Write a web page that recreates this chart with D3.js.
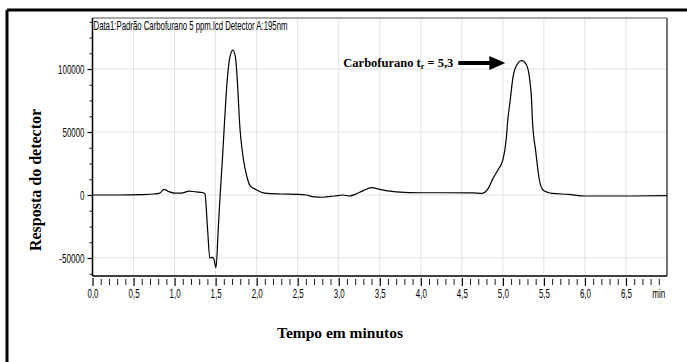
<!DOCTYPE html>
<html>
<head>
<meta charset="utf-8">
<script src="https://cdn.jsdelivr.net/npm/d3@7"></script>
<style>
  html, body { margin: 0; padding: 0; background: #fff; }
  svg { display: block; }
  .narrow { font-family: "Liberation Sans Narrow", "Arial Narrow", "Liberation Sans", Arial, sans-serif; font-stretch: condensed; }
  .serifb { font-family: "Liberation Serif", "Times New Roman", serif; font-weight: bold; }
</style>
</head>
<body>
<script>
// ---- data ----
const times = [0.00, 0.30, 0.60, 0.75, 0.82, 0.87, 0.92, 1.00, 1.08, 1.18, 1.26, 1.34, 1.37, 1.40, 1.43, 1.46, 1.48, 1.505, 1.53, 1.555, 1.58, 1.61, 1.64, 1.67, 1.71, 1.74, 1.77, 1.79, 1.84, 1.88, 1.915, 2.00, 2.10, 2.30, 2.50, 2.60, 2.70, 2.80, 2.95, 3.05, 3.13, 3.20, 3.30, 3.40, 3.50, 3.60, 3.70, 4.00, 4.30, 4.63, 4.75, 4.82, 4.88, 4.95, 5.00, 5.04, 5.06, 5.09, 5.12, 5.16, 5.23, 5.29, 5.33, 5.35, 5.36, 5.40, 5.445, 5.49, 5.55, 5.60, 5.80, 6.00, 6.50, 7.00];
const signal = [0, 0, 300, 800, 1500, 4500, 3000, 1500, 1500, 3100, 2500, 2000, 1000, -25000, -50000, -49500, -51000, -57700, -30000, 0, 25000, 59500, 90000, 108000, 115000, 110000, 85000, 59500, 27800, 15000, 7900, 4000, 1500, 800, 500, 0, -1500, -1800, -800, 0, -800, 500, 3500, 5800, 4500, 3200, 2500, 1800, 1800, 1700, 1300, 5000, 13200, 21000, 27800, 43600, 59500, 75400, 92000, 102000, 106600, 103000, 90000, 75400, 59500, 35000, 11900, 4000, 2000, 1300, 500, -800, -800, -500];

const xTickValues = [0, 0.5, 1.0, 1.5, 2.0, 2.5, 3.0, 3.5, 4.0, 4.5, 5.0, 5.5, 6.0, 6.5];
const xTickLabels = ["0,0", "0,5", "1,0", "1,5", "2,0", "2,5", "3,0", "3,5", "4,0", "4,5", "5,0", "5,5", "6,0", "6,5"];
const yTickValues = [-50000, 0, 50000, 100000];
const yTickLabels = ["-50000", "0", "50000", "100000"];

const titleText = "Data1:Padrão Carbofurano 5 ppm.lcd Detector A:195nm";
const yTitle = "Resposta do detector";
const xTitle = "Tempo em minutos";
const xUnit = "min";
const annotName = "Carbofurano t";
const annotSub = "r";
const annotValue = " = 5,3";
const annotTip = [5.03, 104800];

// ---- layout ----
const W = 687, H = 362;
const L = 92.5, R = 667, T = 18, B = 276;

const svg = d3.select("body").append("svg").attr("width", W).attr("height", H);

const x = d3.scaleLinear().domain([0, 7.0]).range([L, R]);
const y = d3.scaleLinear().domain([-64300, 140500]).range([B, T]);

// width of condensed label text
function condensedWidth(s) {
  let w = 0;
  for (const c of s) {
    if (c === ",") w += 2.2;
    else if (c === "-") w += 3.2;
    else if (c === "m") w += 6.5;
    else if (c === "i") w += 2;
    else w += 4.4;
  }
  return w;
}
function condense(sel) {
  sel.attr("textLength", function () { return condensedWidth(this.textContent); })
     .attr("lengthAdjust", "spacingAndGlyphs");
}

// outer frame (top + left thick lines)
svg.append("line").attr("x1", 7).attr("x2", W).attr("y1", 10).attr("y2", 10).attr("stroke", "#000").attr("stroke-width", 3);
svg.append("line").attr("x1", 7).attr("x2", 7).attr("y1", 10).attr("y2", H).attr("stroke", "#000").attr("stroke-width", 3);

// gridlines
svg.append("g").selectAll("line").data(xTickValues.filter(d => d > 0)).join("line")
  .attr("x1", d => x(d)).attr("x2", d => x(d)).attr("y1", T).attr("y2", B)
  .attr("stroke", "#e2e2e2").attr("stroke-width", 1);
svg.append("g").selectAll("line").data(yTickValues).join("line")
  .attr("x1", L).attr("x2", R).attr("y1", d => y(d)).attr("y2", d => y(d))
  .attr("stroke", "#e2e2e2").attr("stroke-width", 1);

// plot frame
svg.append("line").attr("x1", L).attr("x2", R).attr("y1", T).attr("y2", T).attr("stroke", "#555").attr("stroke-width", 1.2);
svg.append("line").attr("x1", R).attr("x2", R).attr("y1", T).attr("y2", B).attr("stroke", "#444").attr("stroke-width", 1.5);

// x axis
const xMinor = d3.range(0, 70).map(i => i / 10).filter(v => Math.abs(v * 2 - Math.round(v * 2)) > 1e-6);
const gxm = svg.append("g").attr("transform", `translate(0,${B + 3})`)
  .call(d3.axisBottom(x).tickValues(xMinor).tickSize(6).tickFormat(""));
gxm.select(".domain").remove();
gxm.selectAll("line").attr("stroke", "#000").attr("stroke-width", 0.9);

const gx = svg.append("g").attr("transform", `translate(0,${B + 2})`)
  .call(d3.axisBottom(x).tickValues(xTickValues).tickSize(8).tickFormat((d, i) => xTickLabels[i]));
gx.select(".domain").remove();
gx.selectAll("line").attr("stroke", "#000").attr("stroke-width", 1.2);
gx.selectAll("text").attr("class", "narrow").attr("font-size", 13.5).attr("fill", "#000").attr("dy", "0.75em").attr("y", 10).call(condense);
svg.append("line").attr("x1", L).attr("x2", R).attr("y1", B).attr("y2", B).attr("stroke", "#000").attr("stroke-width", 1.5);
svg.append("text").attr("class", "narrow").attr("font-size", 13.5).attr("x", x(6.9)).attr("y", B + 12)
  .attr("dy", "0.75em").attr("text-anchor", "middle").text(xUnit).call(condense);

// y axis
const yMinor = d3.range(-62500, 140001, 12500).filter(v => v % 50000 !== 0 && v > -64300);
const gym = svg.append("g").attr("transform", `translate(${L},0)`)
  .call(d3.axisLeft(y).tickValues(yMinor).tickSize(3).tickFormat(""));
gym.select(".domain").remove();
gym.selectAll("line").attr("stroke", "#000").attr("stroke-width", 0.9);
const gy = svg.append("g").attr("transform", `translate(${L},0)`)
  .call(d3.axisLeft(y).tickValues(yTickValues).tickSize(5).tickPadding(3).tickFormat((d, i) => yTickLabels[i]));
gy.select(".domain").remove();
gy.selectAll("line").attr("stroke", "#000").attr("stroke-width", 1.2);
gy.selectAll("text").attr("class", "narrow").attr("font-size", 13).attr("fill", "#000").call(condense);
svg.append("line").attr("x1", L).attr("x2", L).attr("y1", T).attr("y2", B).attr("stroke", "#000").attr("stroke-width", 1.5);

// title inside plot
svg.append("text").attr("class", "narrow").attr("font-size", 13).attr("x", L + 1).attr("y", T + 11.5)
  .attr("textLength", 194).attr("lengthAdjust", "spacingAndGlyphs").text(titleText);

// curve
const pts = times.map((t, i) => [t, signal[i]]);
svg.append("path").datum(pts)
  .attr("fill", "none").attr("stroke", "#000").attr("stroke-width", 1.2)
  .attr("d", d3.line().x(d => x(d[0])).y(d => y(d[1])).curve(d3.curveMonotoneX));

// annotation
const tipX = x(annotTip[0]), tipY = y(annotTip[1]);
svg.append("line").attr("x1", tipX - 47).attr("x2", tipX - 14).attr("y1", tipY).attr("y2", tipY)
  .attr("stroke", "#000").attr("stroke-width", 4);
svg.append("path").attr("d", `M${tipX},${tipY} L${tipX - 16},${tipY - 7} L${tipX - 16},${tipY + 7} Z`).attr("fill", "#000");
const at = svg.append("text").attr("class", "serifb").attr("font-size", 12.5).attr("x", tipX - 52).attr("y", tipY + 4.5).attr("text-anchor", "end");
at.append("tspan").text(annotName);
at.append("tspan").attr("font-size", 8).attr("dy", 2).text(annotSub);
at.append("tspan").attr("dy", -2).text(annotValue);

// axis titles
svg.append("text").attr("class", "serifb").attr("font-size", 16)
  .attr("transform", `translate(41,${(T + B) / 2 + 33}) rotate(-90)`).attr("text-anchor", "middle").text(yTitle);
svg.append("text").attr("class", "serifb").attr("font-size", 15.5)
  .attr("x", 340).attr("y", 338).attr("text-anchor", "middle").text(xTitle);
</script>
</body>
</html>
